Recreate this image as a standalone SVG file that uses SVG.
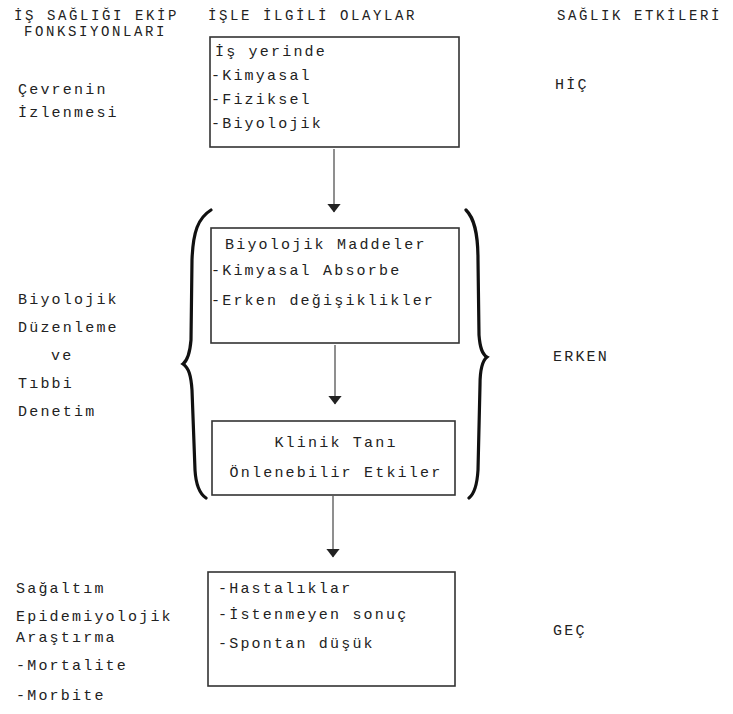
<svg xmlns="http://www.w3.org/2000/svg" width="733" height="714" viewBox="0 0 733 714">
<defs>
<style>
text{font-family:"Liberation Mono","DejaVu Sans Mono",monospace;font-size:15px;fill:#222;letter-spacing:2.2px}
.h{font-size:14px;letter-spacing:2.6px}
.box{fill:none;stroke:#333;stroke-width:1.6}
.conn{stroke:#333;stroke-width:1.1;fill:none}
.brace{fill:none;stroke:#111;stroke-width:3.2;stroke-linecap:round}
</style>
<marker id="ah" viewBox="0 0 9 14" refX="8.5" refY="7" markerWidth="9" markerHeight="14" markerUnits="userSpaceOnUse" orient="auto">
<path d="M0,0 L9,7 L0,14 Z" fill="#222"/>
</marker>
</defs>
<rect width="733" height="714" fill="#fff"/>
<g id="headers">
<text class="h" x="14" y="20">İŞ SAĞLIĞI EKİP</text>
<text class="h" x="24" y="36">FONKSIYONLARI</text>
<text class="h" x="208" y="20">İŞLE İLGİLİ OLAYLAR</text>
<text class="h" x="557" y="20">SAĞLIK ETKİLERİ</text>
</g>
<g id="connectors">
<line class="conn" x1="334" y1="149" x2="334" y2="212" marker-end="url(#ah)"/>
<line class="conn" x1="335" y1="345" x2="335" y2="404" marker-end="url(#ah)"/>
<line class="conn" x1="333" y1="496" x2="333" y2="557" marker-end="url(#ah)"/>
<path class="brace" d="M211,210 C198,218 193,232 192,260 L191,340 C190,352 188,360 183,364 C189,368 191,376 192,390 L195,470 C196,487 200,494 206,498"/>
<path class="brace" d="M466,210 C474,218 478,232 478,260 L479,335 C480,348 482,354 487,357 C482,361 480,370 480,385 L478,470 C477,487 474,494 469,498"/>
</g>
<g id="n1">
<rect class="box" x="210" y="37" width="249" height="110"/>
<text x="215" y="56">İş yerinde</text>
<text x="211" y="80">-Kimyasal</text>
<text x="211" y="104">-Fiziksel</text>
<text x="211" y="128">-Biyolojik</text>
</g>
<g id="n2">
<rect class="box" x="211" y="228" width="248" height="115"/>
<text x="225" y="249">Biyolojik Maddeler</text>
<text x="211" y="275">-Kimyasal Absorbe</text>
<text x="211" y="305">-Erken değişiklikler</text>
</g>
<g id="n3">
<rect class="box" x="212" y="421" width="243" height="74"/>
<text x="336" y="447" text-anchor="middle">Klinik Tanı</text>
<text x="336" y="477" text-anchor="middle">Önlenebilir Etkiler</text>
</g>
<g id="n4">
<rect class="box" x="208" y="572" width="247" height="114"/>
<text x="218" y="593">-Hastalıklar</text>
<text x="218" y="619">-İstenmeyen sonuç</text>
<text x="218" y="648">-Spontan düşük</text>
</g>
<g id="left">
<text x="18" y="94">Çevrenin</text>
<text x="18" y="117">İzlenmesi</text>
<text x="18" y="304">Biyolojik</text>
<text x="18" y="332">Düzenleme</text>
<text x="51" y="360">ve</text>
<text x="18" y="388">Tıbbi</text>
<text x="18" y="416">Denetim</text>
<text x="16" y="593">Sağaltım</text>
<text x="16" y="621">Epidemiyolojik</text>
<text x="16" y="642">Araştırma</text>
<text x="16" y="670">-Mortalite</text>
<text x="16" y="700">-Morbite</text>
</g>
<g id="right">
<text x="555" y="89">HİÇ</text>
<text x="553" y="361">ERKEN</text>
<text x="553" y="635">GEÇ</text>
</g>
</svg>
